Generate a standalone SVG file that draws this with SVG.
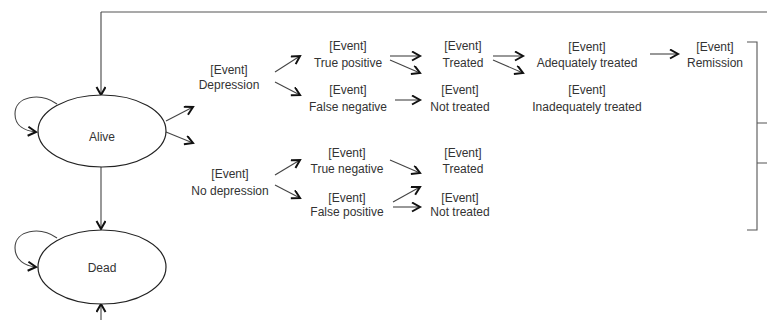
<svg xmlns="http://www.w3.org/2000/svg" width="767" height="320" viewBox="0 0 767 320">
<defs>
<marker id="ah" markerWidth="12" markerHeight="12" refX="9" refY="5" orient="auto" markerUnits="userSpaceOnUse">
<path d="M1,0.5 L9,5 L1,9.5" fill="none" stroke="#111" stroke-width="2"/>
</marker>
<style>
.ln{fill:none;stroke:#555;stroke-width:1.1}
.ar{fill:none;stroke:#444;stroke-width:1.1;marker-end:url(#ah)}
.st{fill:#fff;stroke:#222;stroke-width:1.2}
text{font-family:"Liberation Sans",Arial,sans-serif;font-size:12px;fill:#333;text-anchor:middle}
</style>
</defs>
<rect width="767" height="320" fill="#fff"/>
<g id="connectors">
<path class="ln" d="M767,12 H101"/>
<path class="ar" d="M101,12 V95"/>
<path class="ar" d="M101,167 V229"/>
<path class="ar" d="M101,320 V304"/>
<path class="ar" d="M57,104 C40,92 15,96 15,114 C15,126 25,131 36,132"/>
<path class="ar" d="M57,238 C40,226 15,230 15,248 C15,260 25,266 36,267"/>
<path class="ar" d="M166,121 L193,107"/>
<path class="ar" d="M166,132 L193,143"/>
<path class="ar" d="M275,72 L300,56"/>
<path class="ar" d="M275,82 L300,95"/>
<path class="ar" d="M390,56 L420,56"/>
<path class="ar" d="M390,60 L420,73"/>
<path class="ar" d="M395,100 L420,100"/>
<path class="ar" d="M493,56 L523,56"/>
<path class="ar" d="M493,60 L523,73"/>
<path class="ar" d="M650,54 L678,54"/>
<path class="ar" d="M275,175 L300,160"/>
<path class="ar" d="M275,185 L300,198"/>
<path class="ar" d="M390,160 L420,173"/>
<path class="ar" d="M393,202 L420,187"/>
<path class="ar" d="M393,207 L420,207"/>
<path class="ln" d="M747,42 H757 V230 H747 M757,123 H767 M757,163 H767"/>
</g>
<g id="alive">
<ellipse class="st" cx="102" cy="131" rx="64" ry="36"/>
<text x="102" y="141">Alive</text>
</g>
<g id="dead">
<ellipse class="st" cx="102" cy="267" rx="64" ry="37"/>
<text x="102" y="272">Dead</text>
</g>
<g id="depression"><text x="229" y="74">[Event]</text><text x="229" y="89">Depression</text></g>
<g id="no-depression"><text x="230" y="178">[Event]</text><text x="230" y="195">No depression</text></g>
<g id="true-positive"><text x="348" y="50">[Event]</text><text x="348" y="67">True positive</text></g>
<g id="false-negative"><text x="348" y="94">[Event]</text><text x="348" y="111">False negative</text></g>
<g id="treated-1"><text x="463" y="50">[Event]</text><text x="463" y="67">Treated</text></g>
<g id="not-treated-1"><text x="460" y="94">[Event]</text><text x="460" y="111">Not treated</text></g>
<g id="adequately-treated"><text x="587" y="51">[Event]</text><text x="587" y="67">Adequately treated</text></g>
<g id="inadequately-treated"><text x="587" y="94">[Event]</text><text x="587" y="111">Inadequately treated</text></g>
<g id="remission"><text x="715" y="51">[Event]</text><text x="715" y="67">Remission</text></g>
<g id="true-negative"><text x="347" y="157">[Event]</text><text x="347" y="173">True negative</text></g>
<g id="false-positive"><text x="347" y="202">[Event]</text><text x="347" y="216">False positive</text></g>
<g id="treated-2"><text x="463" y="157">[Event]</text><text x="463" y="173">Treated</text></g>
<g id="not-treated-2"><text x="460" y="202">[Event]</text><text x="460" y="216">Not treated</text></g>
</svg>
